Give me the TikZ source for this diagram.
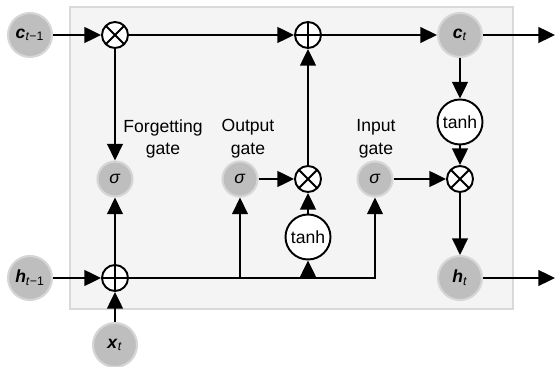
\documentclass[tikz,border=0pt]{standalone}
\usepackage{fontspec}
\setmainfont{Liberation Sans}
\usetikzlibrary{arrows.meta}
\definecolor{boxgray}{HTML}{F4F4F4}
\definecolor{boxline}{HTML}{D9D9D9}
\definecolor{nodegray}{HTML}{BEBEBE}
\definecolor{nodeline}{HTML}{D6D6D6}

\begin{document}
\begin{tikzpicture}[x=0.02cm, y=-0.02cm, line width=1.1pt,
    font=\fontsize{10}{13}\selectfont,
    arr/.style={-{Triangle[length=9.5pt,width=9pt]}},
    varnode/.style={circle, fill=nodegray, draw=nodeline, line width=1.2pt, minimum size=0.88cm, inner sep=0pt},
    signode/.style={circle, fill=nodegray, draw=nodeline, line width=1.2pt, minimum size=0.7cm, inner sep=0pt},
    opnode/.style={circle, draw, fill=white, minimum size=0.52cm, inner sep=0pt},
    multnode/.style={opnode, path picture={\draw (path picture bounding box.north west) -- (path picture bounding box.south east) (path picture bounding box.north east) -- (path picture bounding box.south west);}},
    addnode/.style={opnode, path picture={\draw (path picture bounding box.north) -- (path picture bounding box.south) (path picture bounding box.east) -- (path picture bounding box.west);}},
    tanhnode/.style={circle, draw, fill=white, minimum size=0.9cm, inner sep=0pt},
    gatelabel/.style={align=center}]
    \useasboundingbox (0,0) rectangle (557,367);
    \draw[boxline, fill=boxgray, line width=1pt] (70,7) rectangle (513,309);

    \node[varnode] (cprev) at (30,35) {\textbf{\textit{c}}\textsubscript{\textit{t}−1}};
    \node[multnode] (fx) at (115,35) {};
    \node[addnode] (cadd) at (308,35) {};
    \node[varnode] (ct) at (460,35) {\textbf{\textit{c}}\textsubscript{\textit{t}}};
    \coordinate (cout) at (555,35);
    \node[tanhnode] (tct) at (460,122) {tanh};

    \node[signode] (sf) at (115,179) {\textit{σ}};
    \node[signode] (so) at (240,179) {\textit{σ}};
    \node[multnode] (ox) at (308,179) {};
    \node[signode] (si) at (375,179) {\textit{σ}};
    \node[multnode] (ix) at (460,179) {};
    \node[tanhnode] (tmid) at (308,237) {tanh};

    \node[varnode] (hprev) at (30,278) {\textbf{\textit{h}}\textsubscript{\textit{t}−1}};
    \node[addnode] (hadd) at (115,278) {};
    \node[varnode] (ht) at (460,278) {\textbf{\textit{h}}\textsubscript{\textit{t}}};
    \coordinate (hout) at (555,278);
    \node[varnode] (xt) at (115,345) {\textbf{\textit{x}}\textsubscript{\textit{t}}};

    \node[gatelabel] (lf) at (163,139) {Forgetting\\gate};
    \node[gatelabel] (lo) at (248,139) {Output\\gate};
    \node[gatelabel] (li) at (376,139) {Input\\gate};

    \coordinate (jo) at (so |- hadd);
    \coordinate (jt) at (tmid |- hadd);
    \coordinate (ji) at (si |- hadd);

    \draw[arr] (cprev) -- (fx);
    \draw[arr] (fx) -- (cadd);
    \draw[arr] (cadd) -- (ct);
    \draw[arr] (ct) -- (cout);
    \draw[arr] (fx) -- (sf);
    \draw[arr] (hadd) -- (sf);
    \draw[arr] (hprev) -- (hadd);
    \draw[arr] (xt) -- (hadd);
    \draw[arr] (hadd) -- (ji) -- (si);
    \draw[arr] (jo) -- (so);
    \draw[arr] (jt) -- (tmid);
    \draw[arr] (so) -- (ox);
    \draw[arr] (tmid) -- (ox);
    \draw[arr] (ox) -- (cadd);
    \draw[arr] (si) -- (ix);
    \draw[arr] (ct) -- (tct);
    \draw[arr] (tct) -- (ix);
    \draw[arr] (ix) -- (ht);
    \draw[arr] (ht) -- (hout);
\end{tikzpicture}
\end{document}
